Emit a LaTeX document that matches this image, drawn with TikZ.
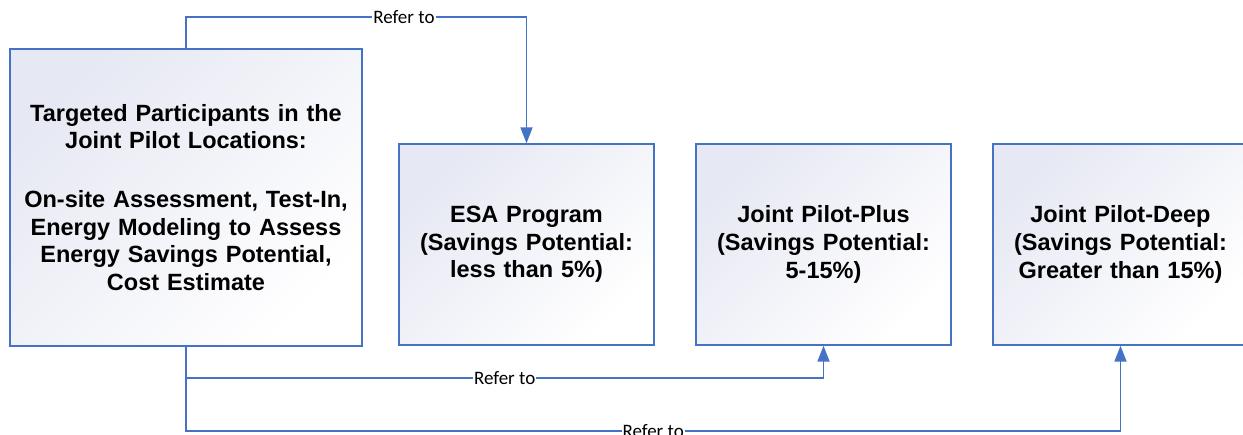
\documentclass[tikz,border=0pt]{standalone}
\usepackage{fontspec}
\setmainfont{Liberation Sans}
\newfontfamily\boxfont{Liberation Sans}[BoldFont={Liberation Sans Bold}]
\newfontfamily\lblfont{Carlito}
\usetikzlibrary{positioning,calc,arrows.meta}
\definecolor{lineblue}{HTML}{4472C4}
\definecolor{boxshade}{HTML}{E6E8F3}
\tikzset{
	box/.style={draw=lineblue,line width=1.4pt,top color=boxshade,bottom color=white,shading angle=45,
		align=center,font=\boxfont\bfseries\fontsize{23.5}{27.7}\selectfont,inner sep=0pt},
	link/.style={draw=lineblue,line width=1.8pt},
	tip/.style={-{Triangle[length=16pt,width=12pt]}},
	lbl/.style={fill=white,inner xsep=1pt,inner ysep=0pt,font=\lblfont\fontsize{19}{19}\selectfont}
}
\begin{document}
\begin{tikzpicture}[x=1pt,y=1pt]
\clip (0,0) rectangle (1243,434); % page frame

%Boites
\node[box,minimum width=352pt,minimum height=297pt,text width=345pt] (src) at (186,236.5)
	{Targeted Participants in the\\Joint Pilot Locations:\\[31pt]On-site Assessment, Test-In,\\Energy Modeling to Assess\\Energy Savings Potential,\\Cost Estimate};
\node[box,minimum width=255pt,minimum height=201pt,text width=250pt] (esa) at (526.5,189.5)
	{ESA Program\\(Savings Potential:\\less than 5\%)};
\node[box,minimum width=255pt,minimum height=201pt,text width=250pt] (plus) at (823.5,189.5)
	{Joint Pilot-Plus\\(Savings Potential:\\5-15\%)};
\node[box,minimum width=255pt,minimum height=201pt,text width=250pt] (deep) at (1120.5,189.5)
	{Joint Pilot-Deep\\(Savings Potential:\\Greater than 15\%)};

%Renvois
\coordinate (up) at ($(src.north)+(0,31)$);
\coordinate (dn1) at ($(src.south)+(0,-31)$);
\coordinate (dn2) at ($(src.south)+(0,-84)$);

\draw[link,tip] (src.north) -- (up) -- node[lbl,pos=0.64] {Refer to} (up -| esa.north) -- (esa.north);
\draw[link,tip] (src.south) -- (dn1) -- node[lbl,pos=0.5] {Refer to} (dn1 -| plus.south) -- (plus.south);
\draw[link,tip] (dn1) -- (dn2) -- node[lbl,pos=0.5] {Refer to} (dn2 -| deep.south) -- (deep.south);

\end{tikzpicture}
\end{document}
